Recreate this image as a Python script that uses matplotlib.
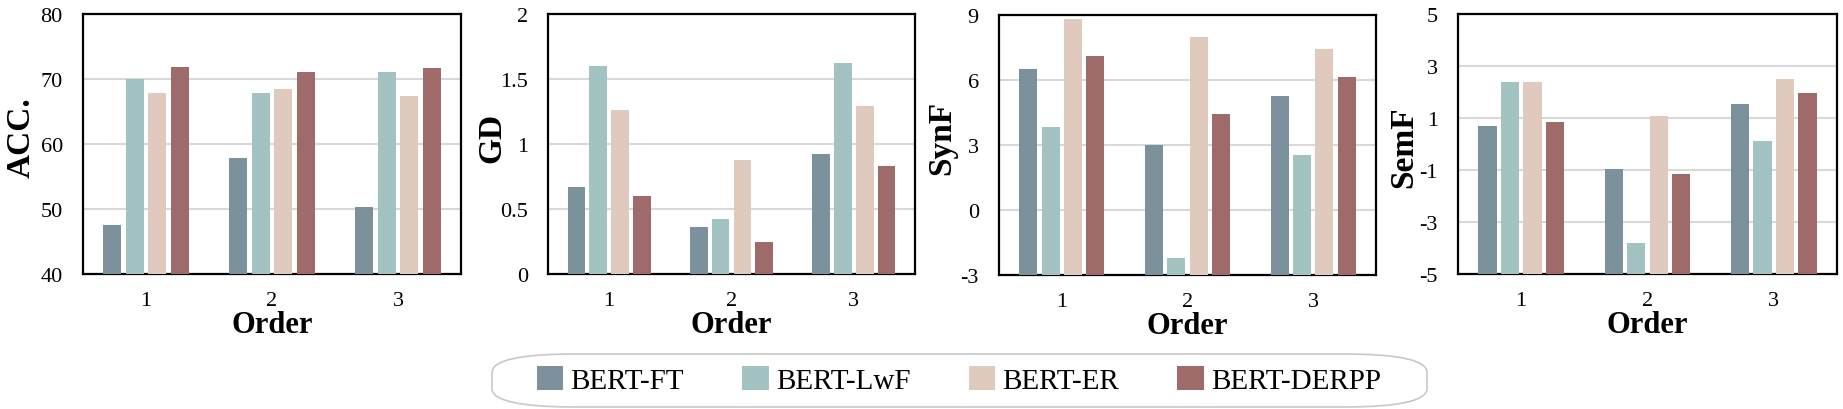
import numpy as np
import matplotlib
matplotlib.use("Agg")
import matplotlib.pyplot as plt
from matplotlib.patches import Patch, FancyBboxPatch

plt.rcParams['font.family'] = ['Liberation Serif', 'DejaVu Serif']

# data
orders = ["1", "2", "3"]
methods = ["BERT-FT", "BERT-LwF", "BERT-ER", "BERT-DERPP"]
colors = ["#7b919b", "#a3c3c2", "#dfcabd", "#9e6b6a"]

acc = [[47.5, 57.8, 50.3],
       [70.0, 67.9, 71.1],
       [67.9, 68.5, 67.4],
       [71.9, 71.1, 71.7]]
gd = [[0.67, 0.36, 0.92],
      [1.60, 0.42, 1.62],
      [1.26, 0.88, 1.29],
      [0.60, 0.25, 0.83]]
synf = [[6.49, 2.98, 5.24],
        [3.85, -2.21, 2.55],
        [8.80, 7.97, 7.41],
        [7.09, 4.45, 6.12]]
semf = [[0.71, -0.98, 1.52],
        [2.37, -3.79, 0.13],
        [2.37, 1.09, 2.51],
        [0.84, -1.17, 1.97]]

metrics = ["ACC.", "GD", "SynF", "SemF"]
values = [acc, gd, synf, semf]
yticks = [[40, 50, 60, 70, 80],
          [0, 0.5, 1, 1.5, 2],
          [-3, 0, 3, 6, 9],
          [-5, -3, -1, 1, 3, 5]]
yticklabels = [["40", "50", "60", "70", "80"],
               ["0", "0.5", "1", "1.5", "2"],
               ["-3", "0", "3", "6", "9"],
               ["-5", "-3", "-1", "1", "3", "5"]]

W, H = 1843, 410
fig = plt.figure(figsize=(W / 100, H / 100), dpi=100)

# axes boxes in pixels: left, right, top, bottom
boxes = [(83, 461, 15, 275), (548, 915, 15, 275),
         (999, 1376, 16, 276), (1458, 1837, 15, 275)]
ylab_x = [-0.122, -0.112, -0.111, -0.103]
ylab_y = [0.527, 0.527, 0.53, 0.49]

x = np.arange(len(orders))
width = 0.145
step = 0.178

for i, (l, r, t, b) in enumerate(boxes):
    ax = fig.add_axes([l / W, (H - b) / H, (r - l) / W, (b - t) / H])
    base = yticks[i][0]
    for j, m in enumerate(methods):
        v = np.array(values[i][j])
        ax.bar(x + (j - 1.5) * step, v - base, width, bottom=base,
               color=colors[j], zorder=3)
    ax.set_xlim(-0.5, 2.5)
    ax.set_ylim(yticks[i][0], yticks[i][-1])
    ax.set_yticks(yticks[i])
    ax.set_yticklabels(yticklabels[i])
    ax.set_xticks(x)
    ax.set_xticklabels(orders)
    ax.tick_params(axis='y', length=0, pad=14.5, labelsize=16)
    ax.tick_params(axis='x', length=0, pad=12, labelsize=16)
    ax.grid(axis='y', color='#d9d9d9', linewidth=1.5, zorder=0)
    ax.set_axisbelow(True)
    for s in ax.spines.values():
        s.set_linewidth(1.6)
        s.set_color('black')
    ax.set_ylabel(metrics[i], fontsize=24, fontweight='bold')
    ax.yaxis.set_label_coords(ylab_x[i], ylab_y[i])
    ax.set_xlabel("Order", fontsize=22, fontweight='bold', va='top')
    ax.xaxis.set_label_coords(0.5, -0.138)

# legend with rounded light frame
box = FancyBboxPatch((492 / W, (H - 408) / H), (1427 - 492) / W, 53 / H,
                     boxstyle="round,pad=0,rounding_size=0.045",
                     transform=fig.transFigure, facecolor='white',
                     edgecolor='#c8c8c8', linewidth=1.2,
                     mutation_aspect=H / W * 4.5)
fig.add_artist(box)
handles = [Patch(facecolor=c, edgecolor='none', label=m) for m, c in zip(methods, colors)]
fig.legend(handles=handles, ncol=4, loc='center', bbox_to_anchor=(959 / W, 1 - 381 / H),
           frameon=False, fontsize=21, handlelength=0.9, handleheight=0.9,
           handletextpad=0.25, columnspacing=2.0)

fig.savefig("out.png", dpi=100)
